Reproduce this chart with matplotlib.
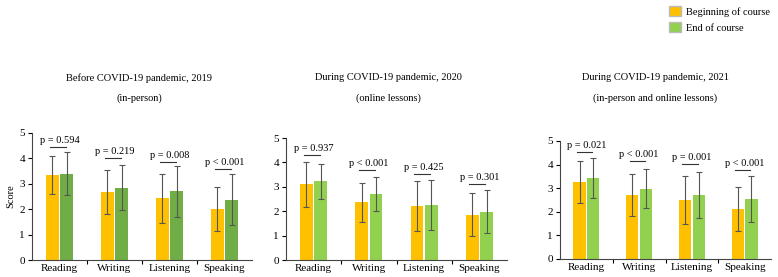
import numpy as np
from matplotlib import pyplot as plt
from matplotlib.patches import Patch

plt.rcParams['font.family'] = ['Liberation Serif', 'DejaVu Serif']

skills = ["Reading", "Writing", "Listening", "Speaking"]

# 2019, in-person
begin_2019 = [3.35, 2.68, 2.43, 2.00]
begin_2019_sd = [0.75, 0.85, 0.96, 0.86]
end_2019 = [3.40, 2.85, 2.70, 2.37]
end_2019_sd = [0.85, 0.90, 1.00, 1.00]
p_2019 = ["p = 0.594", "p = 0.219", "p = 0.008", "p < 0.001"]
line_2019 = [4.45, 4.01, 3.86, 3.60]

# 2020, online
begin_2020 = [3.11, 2.37, 2.20, 1.85]
begin_2020_sd = [0.92, 0.80, 1.02, 0.88]
end_2020 = [3.22, 2.72, 2.27, 1.97]
end_2020_sd = [0.70, 0.70, 1.02, 0.88]
p_2020 = ["p = 0.937", "p < 0.001", "p = 0.425", "p = 0.301"]
line_2020 = [4.30, 3.70, 3.53, 3.12]

# 2021, in-person and online
begin_2021 = [3.27, 2.72, 2.50, 2.10]
begin_2021_sd = [0.89, 0.89, 1.03, 0.93]
end_2021 = [3.42, 2.98, 2.72, 2.53]
end_2021_sd = [0.84, 0.82, 0.97, 0.97]
p_2021 = ["p = 0.021", "p < 0.001", "p = 0.001", "p < 0.001"]
line_2021 = [4.55, 4.15, 4.01, 3.79]

yellow = "#FFC000"
green_dark = "#70AD47"
green_light = "#92D050"

W, H = 778, 277
fig = plt.figure(figsize=(W / 100, H / 100), dpi=100)


def px_axes(x0, x1, ytop, ybot):
    return fig.add_axes([x0 / W, 1 - ybot / H, (x1 - x0) / W, (ybot - ytop) / H])


panels = [
    (px_axes(32, 252, 133, 260), begin_2019, begin_2019_sd, end_2019, end_2019_sd, p_2019, line_2019, green_dark),
    (px_axes(286, 507, 138, 260), begin_2020, begin_2020_sd, end_2020, end_2020_sd, p_2020, line_2020, green_light),
    (px_axes(560, 771, 141, 259), begin_2021, begin_2021_sd, end_2021, end_2021_sd, p_2021, line_2021, green_light),
]

x = np.arange(len(skills))
off = 0.13
bw = 0.23
for i, (ax, b, bsd, e, esd, pv, ly, gcol) in enumerate(panels):
    ekw = dict(ecolor="#555555", elinewidth=0.8, capsize=2, capthick=0.8)
    ax.bar(x - off, b, bw, color=yellow, yerr=bsd, error_kw=ekw)
    ax.bar(x + off, e, bw, color=gcol, yerr=esd, error_kw=ekw)
    for k in range(len(skills)):
        ax.plot([x[k] - off - 0.05, x[k] + off - 0.02], [ly[k], ly[k]], color="#333333", lw=0.8)
        ax.text(x[k], ly[k] + 0.08, pv[k], ha="center", va="bottom", fontsize=7.5)
    ax.set_xlim(-0.5, 3.5)
    ax.set_ylim(0, 5)
    ax.set_yticks([0, 1, 2, 3, 4, 5])
    ax.set_xticks([0.5, 1.5, 2.5])
    ax.set_xticklabels([])
    ax.set_xticks(x, minor=True)
    ax.set_xticklabels(skills, minor=True, fontsize=8)
    ax.tick_params(axis="x", which="minor", length=0, pad=3)
    ax.tick_params(axis="x", which="major", length=3, width=0.8)
    ax.tick_params(axis="y", labelsize=8, length=3, width=0.8, pad=2)
    for s in ["top", "right"]:
        ax.spines[s].set_visible(False)
    for s in ["left", "bottom"]:
        ax.spines[s].set_color("#444444")
        ax.spines[s].set_linewidth(0.8)
    if i == 0:
        ax.set_ylabel("Score", fontsize=7.5, labelpad=3)

titles = [
    (139, "Before COVID-19 pandemic, 2019", "(in-person)"),
    (388, "During COVID-19 pandemic, 2020", "(online lessons)"),
    (655, "During COVID-19 pandemic, 2021", "(in-person and online lessons)"),
]
for cx, t1, t2 in titles:
    fig.text(cx / W, 1 - 78 / H, t1, ha="center", va="center", fontsize=7.5)
    fig.text(cx / W, 1 - 98 / H, t2, ha="center", va="center", fontsize=7.5)

handles = [Patch(facecolor=yellow, edgecolor="#bbbbbb"), Patch(facecolor=green_light, edgecolor="#bbbbbb")]
fig.legend(handles, ["Beginning of course", "End of course"], loc="upper left",
           bbox_to_anchor=(660 / W, 1 + 3 / H), frameon=False, fontsize=7.5,
           handlelength=1.1, handleheight=1.1, handletextpad=0.5, labelspacing=0.5)

fig.savefig("out.png", dpi=100)
